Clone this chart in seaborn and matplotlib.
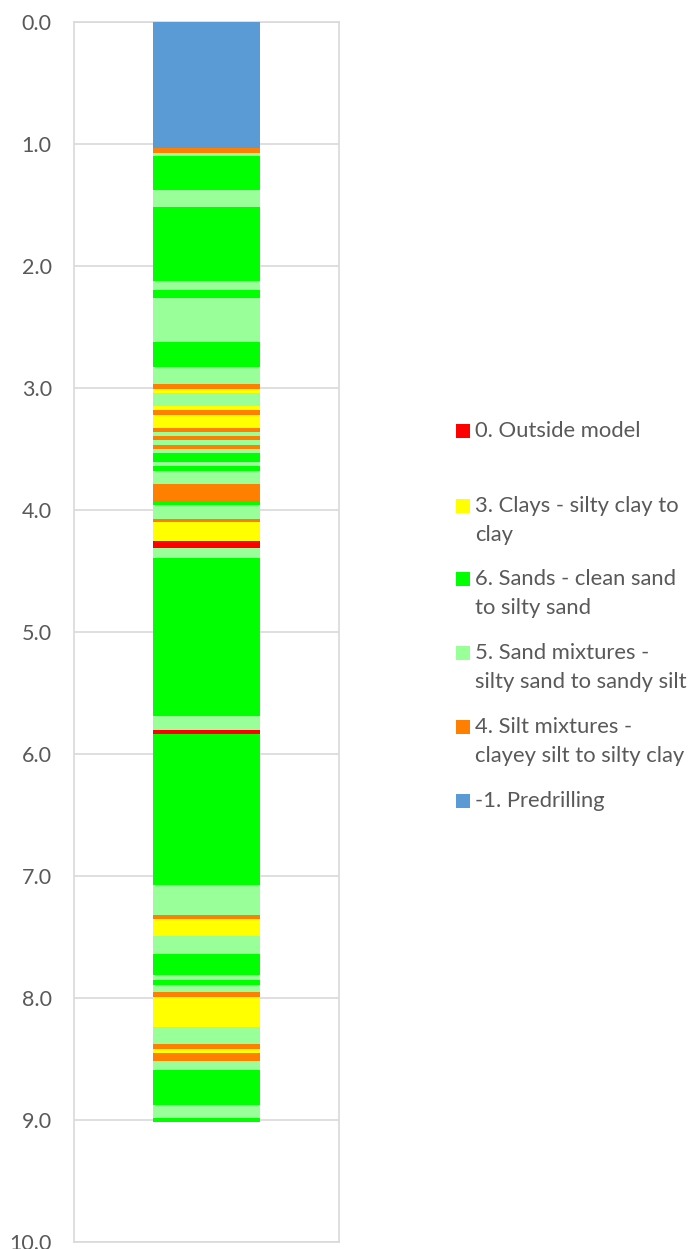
import matplotlib
matplotlib.use("Agg")
import matplotlib.pyplot as plt
from matplotlib.patches import Rectangle
import seaborn as sns
import pandas as pd

# ---- data: soil behaviour layers (top depth, bottom depth, class code) ----
layer_top = [0.00, 1.03, 1.07, 1.10, 1.38, 1.52, 2.12, 2.20, 2.26, 2.62,
             2.83, 2.97, 3.01, 3.04, 3.15, 3.18, 3.22, 3.33, 3.36, 3.39,
             3.43, 3.47, 3.50, 3.53, 3.61, 3.64, 3.68, 3.79, 3.93, 3.96,
             4.07, 4.10, 4.25, 4.31, 4.39, 5.69, 5.80, 5.84, 7.07, 7.32,
             7.35, 7.49, 7.64, 7.81, 7.85, 7.89, 7.95, 7.99, 8.24, 8.38,
             8.42, 8.45, 8.52, 8.59, 8.88, 8.98]
layer_bottom = layer_top[1:] + [9.02]
layer_class = [-1, 4, 5, 6, 5, 6, 5, 6, 5, 6,
               5, 4, 3, 5, 3, 4, 3, 4, 5, 4,
               5, 4, 5, 6, 5, 6, 5, 4, 6, 5,
               4, 3, 0, 5, 6, 5, 0, 6, 5, 4,
               3, 5, 6, 5, 6, 5, 4, 3, 5, 4,
               3, 4, 5, 6, 5, 6]

legend_codes = [0, 3, 6, 5, 4, -1]
legend_labels = ["0. Outside model",
                 "3. Clays - silty clay to\nclay",
                 "6. Sands - clean sand\nto silty sand",
                 "5. Sand mixtures -\nsilty sand to sandy silt",
                 "4. Silt mixtures -\nclayey silt to silty clay",
                 "-1. Predrilling"]
class_colors = {-1: "#5B9BD5", 0: "#FF0000", 3: "#FFFF00",
                4: "#FF8000", 5: "#99FF99", 6: "#00FF00"}

y_ticks = [0, 1, 2, 3, 4, 5, 6, 7, 8, 9, 10]

df = pd.DataFrame({"top": layer_top, "bottom": layer_bottom, "cls": layer_class})
df["thickness"] = df["bottom"] - df["top"]

sns.set_theme(style="white")
plt.rcParams["font.family"] = ["Lato", "DejaVu Sans"]

W, H = 693, 1249
fig = plt.figure(figsize=(W / 100, H / 100), dpi=100)
ax = fig.add_axes([74 / W, 1 - 1242 / H, 265 / W, 1220 / H])

txt_color = "#595959"
grid_color = "#D9D9D9"

ax.bar(0, df["thickness"], bottom=df["top"], width=0.404,
       color=[class_colors[c] for c in df["cls"]], linewidth=0, zorder=3)

ax.set_xlim(-0.5, 0.5)
ax.set_ylim(10, 0)
ax.set_yticks(y_ticks)
ax.set_yticklabels([f"{v:.1f}" for v in y_ticks], color=txt_color, fontsize=15.5)
ax.set_xticks([])
ax.tick_params(axis="y", length=0, pad=16)
for yv in y_ticks:
    ax.axhline(yv, color=grid_color, lw=1.2, zorder=1)
for s in ax.spines.values():
    s.set_color(grid_color)
    s.set_linewidth(1.2)

# legend drawn as squares + text in figure pixel coordinates
entry_y = [431, 506, 579, 653, 727, 801]
for code, lab, yc in zip(legend_codes, legend_labels, entry_y):
    fig.add_artist(Rectangle((456 / W, 1 - (yc + 7) / H), 14 / W, 14 / H,
                             transform=fig.transFigure,
                             facecolor=class_colors[code], edgecolor="none"))
    fig.text(475 / W, 1 - (yc - 10) / H, lab, color=txt_color, fontsize=15.8,
             va="top", ha="left", linespacing=1.55)

fig.savefig("out.png", dpi=100)
